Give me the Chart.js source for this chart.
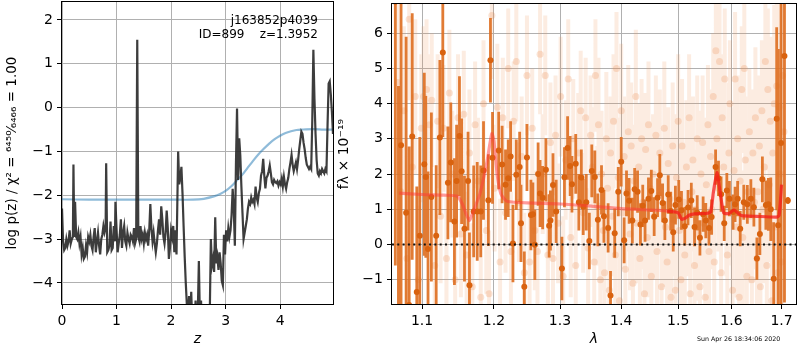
<!DOCTYPE html>
<html><head><meta charset="utf-8">
<script src="https://cdn.jsdelivr.net/npm/chart.js@4.4.0/dist/chart.umd.min.js"></script>
<style>
body{margin:0;background:#fff;width:800px;height:350px;position:relative;overflow:hidden;font-family:'DejaVu Sans',sans-serif;}
#c1{position:absolute;left:0;top:0;}
#c2{position:absolute;left:336px;top:0;}
#ann{position:absolute;right:482px;top:13px;font-size:12px;line-height:14px;text-align:right;white-space:pre;color:#000;}
#stamp{position:absolute;left:697px;top:335px;font-size:6.3px;line-height:8px;white-space:pre;color:#000;}
</style></head>
<body>
<canvas id="c1" width="340" height="350"></canvas>
<canvas id="c2" width="464" height="350"></canvas>
<div id="ann">j163852p4039
ID=899    z=1.3952</div>
<div id="stamp">Sun Apr 26 18:34:06 2020</div>
<script>
// ---------- Left panel: log p(z) ----------
const zGrid = [0.00,0.02,0.04,0.06,0.08,0.10,0.12,0.14,0.16,0.18,0.20,0.21,0.225,0.24,0.26,0.28,0.30,0.32,0.34,0.36,0.38,0.40,0.42,0.44,0.46,0.48,0.50,0.52,0.54,0.56,0.58,0.60,0.62,0.64,0.66,0.68,0.70,0.72,0.74,0.76,0.78,0.80,0.81,0.83,0.85,0.87,0.89,0.91,0.93,0.95,0.97,0.98,1.00,1.02,1.04,1.06,1.08,1.10,1.12,1.14,1.16,1.18,1.20,1.22,1.24,1.26,1.28,1.30,1.32,1.34,1.36,1.38,1.40,1.42,1.44,1.46,1.48,1.50,1.52,1.54,1.56,1.58,1.60,1.62,1.64,1.66,1.68,1.70,1.72,1.74,1.76,1.78,1.80,1.82,1.84,1.86,1.88,1.90,1.92,1.94,1.96,1.98,2.00,2.02,2.04,2.06,2.08,2.10,2.13,2.15,2.17,2.19,2.21,2.23,2.25,2.27,2.29,2.31,2.33,2.35,2.37,2.39,2.41,2.43,2.45,2.47,2.49,2.51,2.53,2.55,2.57,2.59,2.61,2.63,2.65,2.67,2.69,2.71,2.73,2.75,2.77,2.79,2.81,2.83,2.85,2.87,2.89,2.91,2.93,2.95,2.97,2.99,3.01,3.03,3.05,3.07,3.09,3.11,3.13,3.15,3.17,3.19,3.21,3.23,3.25,3.27,3.29,3.31,3.33,3.35,3.37,3.39,3.41,3.43,3.45,3.47,3.49,3.51,3.53,3.55,3.57,3.59,3.61,3.63,3.65,3.67,3.69,3.71,3.73,3.75,3.77,3.79,3.81,3.83,3.85,3.87,3.89,3.91,3.93,3.95,3.97,3.99,4.01,4.03,4.05,4.07,4.09,4.11,4.13,4.15,4.17,4.19,4.21,4.23,4.25,4.27,4.29,4.31,4.33,4.35,4.37,4.39,4.41,4.43,4.45,4.47,4.49,4.51,4.53,4.55,4.57,4.59,4.61,4.63,4.65,4.67,4.69,4.71,4.73,4.75,4.77,4.79,4.81,4.83,4.85,4.87,4.89,4.91,4.93,4.95,4.97];
const logPz = [-2.30,-3.05,-3.25,-3.20,-3.00,-3.15,-3.05,-2.80,-3.10,-3.00,-2.95,-1.30,-2.95,-2.15,-2.95,-3.00,-2.85,-3.10,-2.95,-3.35,-3.20,-3.45,-3.40,-3.15,-3.30,-2.95,-3.05,-2.90,-3.15,-3.25,-2.95,-2.75,-3.30,-3.05,-2.85,-3.15,-3.35,-3.00,-2.90,-2.70,-2.85,-2.75,-1.27,-3.30,-3.25,-3.15,-2.60,-3.25,-3.20,-2.70,-3.05,-2.15,-2.75,-3.30,-3.10,-2.90,-2.55,-3.20,-2.85,-2.70,-3.05,-3.15,-2.85,-3.00,-3.10,-2.90,-2.95,-3.05,-2.75,-3.10,-3.00,1.55,-2.95,-3.05,-2.70,-3.00,-2.90,-3.10,-2.85,-3.00,-2.90,-3.15,-2.80,-2.20,-2.75,-3.05,-2.85,-3.10,-3.30,-3.10,-2.80,-2.55,-2.90,-2.25,-2.55,-2.95,-3.10,-2.85,-2.35,-2.75,-3.45,-3.20,-2.80,-2.95,-2.70,-3.30,-2.80,-3.35,-1.00,-1.75,-1.60,-1.35,-1.95,-2.70,-3.40,-4.00,-4.50,-4.80,-4.30,-4.90,-4.20,-5.00,-4.60,-5.00,-4.40,-5.10,-4.70,-3.50,-4.90,-4.40,-5.20,-4.50,-5.30,-4.60,-5.00,-4.50,-5.20,-4.70,-3.00,-3.60,-3.45,-3.75,-2.50,-3.55,-3.40,-3.70,-3.30,-3.55,-3.95,-4.05,-2.90,-3.35,-2.80,-3.05,-2.75,-2.95,-2.80,-2.45,-1.85,-2.30,-3.15,-1.30,-0.02,-1.65,-0.70,-1.10,-1.80,-2.40,-3.00,-2.85,-2.70,-2.55,-2.30,-2.15,-2.20,-2.05,-2.15,-2.10,-2.20,-1.80,-2.05,-2.15,-1.95,-1.85,-1.55,-1.45,-1.17,-1.55,-1.84,-1.60,-1.55,-1.45,-1.32,-1.50,-1.70,-1.75,-1.65,-1.70,-1.72,-1.68,-1.78,-1.70,-1.75,-1.62,-1.80,-1.58,-1.75,-1.85,-1.70,-1.60,-1.40,-1.25,-1.08,-1.30,-1.45,-1.35,-1.25,-1.40,-1.20,-0.95,-0.75,-0.55,-0.60,-0.80,-0.95,-1.15,-1.30,-1.35,-1.40,-1.35,-1.40,-0.30,1.32,0.20,-0.60,-1.20,-1.50,-1.55,-1.45,-1.50,-1.40,-1.45,-1.50,-1.40,-1.45,-0.40,0.55,0.60,0.30,-0.10,-0.60];
const zPrior = [0,0.5,1.0,1.5,2.0,2.4,2.6,2.8,2.9,3.0,3.1,3.2,3.3,3.4,3.5,3.6,3.7,3.8,3.9,4.0,4.1,4.2,4.3,4.4,4.6,4.8,4.97];
const logPrior = [-2.09,-2.10,-2.10,-2.10,-2.10,-2.10,-2.08,-2.02,-1.97,-1.90,-1.80,-1.67,-1.54,-1.38,-1.22,-1.07,-0.94,-0.82,-0.72,-0.64,-0.58,-0.54,-0.51,-0.50,-0.49,-0.50,-0.50];
const zTicks = [0,1,2,3,4];
const pzTicks = [-4,-3,-2,-1,0,1,2];

// ---------- Right panel: spectrum ----------
const lamDark = [1.065,1.069,1.0724,1.079,1.083,1.087,1.093,1.097,1.103,1.105,1.108,1.1125,1.119,1.124,1.128,1.135,1.139,1.144,1.147,1.151,1.154,1.158,1.163,1.165,1.171,1.176,1.181,1.185,1.192,1.195,1.198,1.207,1.212,1.217,1.221,1.2245,1.228,1.233,1.238,1.240,1.245,1.249,1.255,1.258,1.261,1.266,1.269,1.273,1.278,1.283,1.285,1.289,1.294,1.303,1.307,1.312,1.316,1.319,1.325,1.330,1.334,1.337,1.342,1.347,1.351,1.356,1.361,1.367,1.371,1.378,1.382,1.389,1.395,1.400,1.405,1.409,1.4135,1.419,1.423,1.428,1.433,1.437,1.441,1.447,1.452,1.457,1.463,1.467,1.472,1.476,1.482,1.4865,1.491,1.495,1.501,1.506,1.512,1.518,1.524,1.530,1.535,1.540,1.546,1.551,1.557,1.562,1.5695,1.575,1.580,1.586,1.591,1.596,1.603,1.607,1.612,1.617,1.624,1.631,1.638,1.644,1.650,1.656,1.661,1.668,1.673,1.678,1.684,1.690,1.693,1.699,1.706,1.713];
const fluxDark = [6.9,-2.0,2.82,0.90,-1.72,3.07,-1.35,0.25,2.28,1.92,-0.13,1.35,0.25,3.04,5.45,1.75,2.33,0.65,1.80,3.08,2.08,0.45,1.80,-1.16,0.94,0.94,0.94,2.10,1.26,5.23,2.46,2.67,2.27,1.70,1.88,2.50,0.03,1.98,2.20,0.60,-1.20,2.47,0.84,0.86,-0.01,2.00,1.45,1.33,2.12,0.53,0.68,1.69,0.94,-0.68,1.91,2.74,2.23,1.71,2.29,1.20,1.90,1.07,1.20,0.10,2.09,1.92,0.70,1.55,0.80,0.47,-1.45,0.32,1.50,2.35,0.12,1.45,1.24,0.68,1.57,1.50,0.57,1.10,0.68,1.30,1.52,0.79,1.33,1.97,1.18,0.68,1.42,0.95,0.35,1.12,1.28,0.97,0.52,1.05,1.25,0.50,0.90,0.19,0.86,0.68,0.47,0.78,2.20,1.88,1.43,0.60,1.53,1.30,0.92,1.14,1.30,0.45,1.20,1.14,1.30,1.06,-0.40,0.30,1.85,1.12,1.14,1.00,-0.97,3.57,0.55,2.88,5.35,1.25];
const errDark = [7.5,6.5,5.5,5.0,4.5,3.5,3.0,2.8,2.6,2.3,2.2,2.4,2.0,2.2,2.4,1.6,1.7,1.8,1.6,1.7,1.5,1.5,1.4,1.5,1.3,1.4,1.3,1.4,1.3,1.2,1.3,1.1,1.1,1.0,1.1,1.0,1.1,1.0,1.0,1.1,1.0,0.95,1.0,0.9,1.0,0.9,0.95,0.9,0.9,0.9,0.85,0.9,0.9,0.9,0.85,0.9,0.85,0.8,0.85,0.8,0.8,0.8,0.8,0.8,0.75,0.75,0.75,0.7,0.75,0.7,0.7,0.7,0.7,0.7,0.65,0.65,0.65,0.65,0.6,0.6,0.6,0.6,0.6,0.6,0.6,0.55,0.55,0.6,0.55,0.55,0.55,0.55,0.55,0.55,0.55,0.55,0.55,0.5,0.5,0.55,0.5,0.5,0.5,0.5,0.5,0.5,0.5,0.5,0.5,0.5,0.5,0.5,0.5,0.5,0.5,0.5,0.5,0.55,0.55,0.55,0.6,0.6,0.65,0.7,0.75,0.9,1.6,2.6,5.0,6.0,7.0,0.1];

const lamFaint = [1.068,1.072,1.076,1.080,1.083,1.087,1.091,1.095,1.099,1.102,1.106,1.110,1.113,1.117,1.121,1.125,1.129,1.133,1.137,1.141,1.145,1.149,1.153,1.157,1.161,1.165,1.169,1.173,1.177,1.181,1.185,1.189,1.193,1.197,
1.201,1.205,1.209,1.213,1.217,1.221,1.225,1.229,1.233,1.237,1.241,1.245,1.249,1.253,1.257,1.261,1.265,1.269,1.273,1.277,1.281,1.285,1.289,1.293,1.297,1.301,1.305,1.309,1.313,1.317,1.321,1.325,1.329,1.333,1.337,1.341,1.345,1.349,
1.352,1.355,1.357,1.360,1.362,1.365,1.367,1.370,1.372,1.375,1.377,1.380,1.382,1.385,1.387,1.390,1.392,1.395,1.397,1.400,1.402,1.405,1.407,1.410,1.412,1.415,1.417,1.420,1.422,1.425,1.427,1.430,1.432,1.435,1.437,1.440,1.442,1.445,1.447,1.450,1.452,1.455,1.457,1.460,1.462,1.465,1.467,1.470,1.472,1.475,1.477,1.480,1.482,1.485,1.487,1.490,1.492,1.495,1.497,1.500,
1.502,1.505,1.507,1.510,1.512,1.515,1.517,1.520,1.522,1.525,1.527,1.530,1.532,1.535,1.537,1.540,1.542,1.545,1.547,1.550,1.552,1.555,1.557,1.560,1.562,1.565,1.567,1.570,1.572,1.575,1.577,1.580,1.582,1.585,1.587,1.590,1.592,1.595,1.597,1.600,1.602,1.605,1.607,1.610,1.612,1.615,1.617,1.620,1.622,1.625,1.627,1.630,1.632,1.635,1.637,1.640,1.642,1.645,1.647,1.650,1.652,1.655,1.657,1.660,1.662,1.665,1.667,1.670,1.672,1.675,1.677,1.680,1.682,1.685,1.687,1.690,1.692,1.695,1.697,1.700,1.702,1.705];
const fluxFaint = [4.6,1.5,3.8,-0.4,6.4,2.2,4.2,-1.0,3.3,4.2,4.4,3.4,4.1,-0.6,3.5,0.8,3.3,-0.4,4.3,2.0,-1.0,3.6,0.3,3.7,-0.3,2.6,-1.2,3.4,1.8,-1.5,4.0,0.4,-1.4,6.5,
1.6,3.9,-0.5,3.6,0.9,5.0,-0.2,3.5,5.2,1.2,2.5,-0.8,4.8,-0.5,3.3,0.4,-0.2,5.4,2.0,4.8,-0.3,2.9,-0.4,3.1,0.6,4.2,-0.9,2.4,4.7,0.2,3.0,-0.6,2.6,3.8,0.9,3.6,-0.1,3.1,
2.2,-0.5,4.8,1.1,3.4,-1.0,2.0,0.4,-0.8,3.0,1.6,-1.3,2.6,0.8,3.5,-0.3,5.0,1.9,-1.6,3.8,0.9,2.5,-0.7,1.5,3.2,0.3,2.8,-1.1,1.8,4.2,0.6,2.2,-0.4,3.0,1.2,-1.4,2.7,0.2,3.4,1.6,-0.9,2.0,0.8,3.1,-0.2,1.4,2.6,-1.2,1.0,3.3,0.5,-0.5,2.3,1.3,-1.5,2.8,0.7,-1.3,1.9,3.5,
0.4,-1.0,2.8,1.2,-0.3,2.2,0.8,3.6,-1.4,1.5,2.4,-0.6,1.0,3.0,0.3,-1.2,2.0,2.9,0.6,-1.5,1.7,3.4,-0.2,2.5,1.0,4.2,-0.5,5.5,3.0,1.6,5.2,-0.8,3.6,2.2,4.7,0.9,-0.3,2.6,4.0,1.3,-1.3,2.1,4.7,0.5,3.0,-1.5,1.8,4.4,0.2,5.0,2.4,-0.9,1.5,3.2,0.8,-1.0,2.6,1.2,3.6,-0.4,1.5,2.8,-1.2,3.8,1.0,2.2,5.2,-0.6,4.4,1.7,3.5,-1.6,2.6,4.0,0.5,4.5,-0.8,3.9,2.0,-0.5,4.8,3.2];
const errFaint = [2.6,2.5,2.4,2.4,2.3,2.2,2.2,2.1,2.1,2.0,2.0,2.0,1.9,1.9,1.9,1.9,1.8,1.8,1.8,1.8,1.8,1.8,1.8,1.8,1.8,1.8,1.8,1.8,1.8,1.8,1.8,1.8,1.8,1.8,
1.8,1.8,1.8,1.7,1.7,1.7,1.7,1.7,1.7,1.7,1.7,1.7,1.7,1.7,1.7,1.7,1.7,1.7,1.7,1.7,1.7,1.7,1.7,1.7,1.7,1.7,1.7,1.7,1.7,1.7,1.7,1.7,1.7,1.7,1.7,1.7,1.7,1.7,
1.7,1.8,1.6,1.7,1.9,1.6,1.8,1.7,1.6,1.9,1.7,1.8,1.6,1.7,1.9,1.8,1.6,1.7,1.8,1.9,1.6,1.7,1.8,1.7,1.9,1.6,1.8,1.7,1.6,1.9,1.7,1.8,1.6,1.7,1.9,1.8,1.6,1.7,1.8,1.9,1.6,1.7,1.8,1.7,1.9,1.6,1.8,1.7,1.6,1.9,1.7,1.8,1.6,1.7,1.9,1.8,1.6,1.7,1.8,1.9,
1.7,1.8,1.9,1.7,1.8,1.9,1.7,1.8,1.9,1.7,1.8,1.9,1.7,1.8,1.9,1.7,1.8,1.9,1.7,1.8,1.9,1.7,1.8,1.9,1.7,1.8,1.9,1.8,2.0,1.8,1.9,2.0,1.8,1.9,2.0,1.8,1.9,2.0,1.8,1.9,2.0,1.8,1.9,2.0,1.8,1.9,2.0,1.8,1.9,2.0,1.8,1.9,2.0,1.8,1.9,2.0,1.8,1.9,2.0,1.8,1.9,2.0,1.8,2.0,2.1,2.0,2.2,2.1,2.3,2.2,2.4,2.5,2.6,2.8,3.0,3.2,3.5,3.8,4.0,4.2,4.5,4.8];

const lamModel = [1.07,1.10,1.13,1.148,1.155,1.16,1.165,1.17,1.18,1.19,1.197,1.20,1.205,1.21,1.215,1.22,1.25,1.30,1.35,1.40,1.45,1.48,1.50,1.506,1.512,1.52,1.53,1.55,1.56,1.565,1.572,1.578,1.585,1.595,1.605,1.612,1.62,1.65,1.69,1.695,1.70];
const fluxModel = [1.46,1.42,1.40,1.37,1.15,0.88,0.68,0.92,1.45,2.35,3.15,2.95,1.95,1.45,1.30,1.22,1.18,1.15,1.09,1.02,0.98,0.95,0.90,0.72,0.74,0.83,0.87,0.88,0.92,1.45,2.04,1.50,0.90,0.88,0.98,0.90,0.82,0.80,0.78,0.82,1.70];
const lamTicks = [1.1,1.2,1.3,1.4,1.5,1.6,1.7];
const fluxTicks = [-1,0,1,2,3,4,5,6];

// ---------- helpers ----------
const FONT = 'DejaVu Sans';
const fmt = v => (v < 0 ? '\u2212' + Math.abs(v) : String(v));
const frame = {
  id: 'frame',
  afterDraw(chart) {
    const a = chart.chartArea, c = chart.ctx;
    c.save(); c.strokeStyle = '#000'; c.lineWidth = 1;
    c.strokeRect(Math.round(a.left) - 0.5, Math.round(a.top) - 0.5, Math.round(a.right - a.left) + 1, Math.round(a.bottom - a.top) + 1);
    c.restore();
  }
};
const pts = (xs, ys) => xs.map((x, i) => ({x: x, y: ys[i]}));
function errSegs(xs, ys, es) {
  const out = [];
  xs.forEach((x, i) => { out.push({x: x, y: ys[i] - es[i]}, {x: x, y: ys[i] + es[i]}, {x: x, y: null}); });
  return out;
}
function axis(min, max, ticks, width, height, title, tfont, tpad, fmtFn, type) {
  return {
    type: type || 'linear', min: min, max: max,
    afterBuildTicks: s => { s.ticks = ticks.map(v => ({value: v})); },
    afterFit: s => {
      if (width != null) s.width = width;
      if (height != null) s.height = height;
      s.paddingTop = 0; s.paddingBottom = 0; s.paddingLeft = 0; s.paddingRight = 0;
    },
    grid: {color: '#b0b0b0', lineWidth: 1, tickColor: '#000', tickLength: 5, tickWidth: 1},
    border: {display: false},
    ticks: {color: '#000', font: {family: FONT, size: 14}, padding: 4, maxRotation: 0, autoSkip: false, callback: fmtFn},
    title: {display: true, text: title, color: '#000', font: tfont, padding: tpad}
  };
}
Chart.defaults.animation = false;
Chart.defaults.events = [];
Chart.defaults.plugins.legend.display = false;
Chart.defaults.plugins.tooltip.enabled = false;

// ---------- Left chart ----------
new Chart(document.getElementById('c1'), {
  type: 'line',
  data: {datasets: [
    {data: pts(zGrid, logPz), borderColor: 'rgba(40,40,40,0.9)', borderWidth: 2.2, pointRadius: 0, tension: 0, clip: 0, order: 0},
    {data: pts(zPrior, logPrior), borderColor: 'rgba(31,119,180,0.5)', borderWidth: 2.2, pointRadius: 0, tension: 0.3, clip: 0, order: 1}
  ]},
  options: {
    responsive: false, devicePixelRatio: 1,
    layout: {padding: {left: 0, right: 7, top: 2, bottom: 0}},
    scales: {
      x: axis(0, 4.97, zTicks, null, 46, 'z', {family: FONT, size: 14, style: 'italic'}, {top: 0, bottom: 2}, v => fmt(v)),
      y: axis(-4.48, 2.41, pzTicks, 62, null, 'log p(z) / \u03c7\u00b2 = \u2076\u2074\u2075\u2070\u2044\u2086\u2084\u2086\u2086 = 1.00', {family: FONT, size: 13.5}, {top: 4, bottom: 0}, v => fmt(v))
    }
  },
  plugins: [frame]
});

// ---------- Right chart ----------
new Chart(document.getElementById('c2'), {
  type: 'line',
  data: {datasets: [
    {data: [{x: 1.0607, y: 0}, {x: 1.730, y: 0}], borderColor: '#111', borderWidth: 2, borderDash: [2, 3.3], pointRadius: 0, clip: 0, order: 0},
    {data: pts(lamModel, fluxModel), borderWidth: 3.2, pointRadius: 0, tension: 0.2, clip: 0, order: 1,
      borderColor: 'rgba(255,50,50,0.5)',
      segment: {borderColor: c => (c.p0.parsed.x > 1.45 ? 'rgba(245,25,25,0.75)' : 'rgba(255,55,55,0.5)')}},
    {data: pts(lamDark, fluxDark), showLine: false, pointRadius: 3, pointBorderWidth: 0, pointBackgroundColor: '#d9620f', pointBorderColor: '#d9620f', clip: 0, order: 2},
    {data: errSegs(lamDark, fluxDark, errDark), borderColor: 'rgba(222,112,35,0.92)', borderWidth: 2.8, pointRadius: 0, spanGaps: false, borderCapStyle: 'butt', clip: 0, order: 3},
    {data: pts(lamFaint, fluxFaint), showLine: false, pointRadius: 3.5, pointBorderWidth: 0, pointBackgroundColor: 'rgba(235,140,80,0.25)', pointBorderColor: 'rgba(235,140,80,0.25)', clip: 0, order: 4},
    {data: errSegs(lamFaint, fluxFaint, errFaint), borderColor: 'rgba(240,150,90,0.18)', borderWidth: 4, pointRadius: 0, spanGaps: false, borderCapStyle: 'butt', clip: 0, order: 5}
  ]},
  options: {
    responsive: false, devicePixelRatio: 1,
    layout: {padding: {left: 0, right: 1, top: 2, bottom: 0}},
    scales: {
      x: axis(1.0607, 1.730, lamTicks, null, 46, '\u03bb', {family: FONT, size: 14, style: 'italic'}, {top: 0, bottom: 2}, v => Number(v).toFixed(1), 'logarithmic'),
      y: axis(-1.69, 6.83, fluxTicks, 56, null, 'f\u03bb \u00d7 10\u207b\u00b9\u2079', {family: FONT, size: 14}, {top: 0, bottom: 0}, v => fmt(v))
    }
  },
  plugins: [frame]
});
</script>
</body></html>
